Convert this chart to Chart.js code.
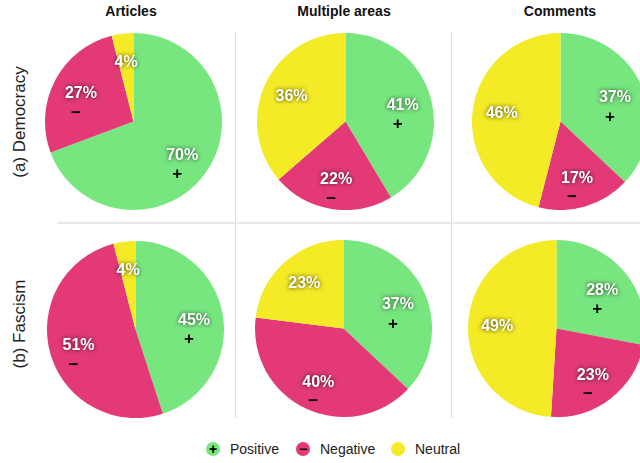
<!DOCTYPE html>
<html>
<head>
<meta charset="utf-8">
<script src="https://cdn.jsdelivr.net/npm/chart.js@4/dist/chart.umd.min.js"></script>
<style>
  html, body { margin: 0; padding: 0; background: #fff; overflow: hidden; }
  body { width: 640px; height: 463px; position: relative; font-family: "Liberation Sans", Arial, sans-serif; }
  .pie { position: absolute; }
  .col-title { position: absolute; top: 3px; width: 200px; margin-left: -100px; text-align: center; font-weight: bold; font-size: 14px; color: #111; }
  .row-title { position: absolute; width: 200px; height: 20px; line-height: 20px; margin-left: -100px; margin-top: -10px; text-align: center; font-size: 17px; color: #222; transform: rotate(-90deg); }
  .vline { position: absolute; width: 1px; background: #dedede; }
  .hline { position: absolute; height: 2px; background: #e8e8e8; }
  #legend { position: absolute; top: 440px; left: 0; width: 640px; height: 18px; }
  .lg-dot { position: absolute; width: 14px; height: 14px; border-radius: 50%; top: 2px; text-align: center; line-height: 14px; font-weight: bold; font-size: 14px; color: #000; }
  .lg-text { position: absolute; top: 0; font-size: 14px; line-height: 18px; color: #222; }
</style>
</head>
<body>
<div class="vline" style="left:235px; top:32px; height:386px;"></div>
<div class="vline" style="left:451px; top:32px; height:386px;"></div>
<div class="hline" style="left:57px; top:222px; width:583px;"></div>
<div id="legend"></div>

<script>
// --- DADOS ---
const categorias = ['Positive', 'Negative', 'Neutral'];
const sinais = ['+', '\u2212', ''];
const fontes = ['Articles', 'Multiple areas', 'Comments'];
const temas = ['(a) Democracy', '(b) Fascism'];

const democracyArticles = [70, 27, 4];
const democracyMultiple = [41, 22, 36];
const democracyComments = [37, 17, 46];
const fascismArticles = [45, 51, 4];
const fascismMultiple = [37, 40, 23];
const fascismComments = [28, 23, 49];

const cores = ['#77e67f', '#e33a77', '#f4ea25'];

// --- LAYOUT ---
const linhas = [
    { tema: temas[0], y: [121.5, 121, 121.5], x: [133.5, 345, 560], dados: [democracyArticles, democracyMultiple, democracyComments], labelY: 122 },
    { tema: temas[1], y: [329, 328.5, 328.5], x: [135, 343, 556], dados: [fascismArticles, fascismMultiple, fascismComments], labelY: 324 }
];
const colunasX = [131, 344, 560];
const raio = 88.5;

// plugin que escreve as porcentagens e os sinais dentro das fatias
const rotulosPizza = {
    id: 'rotulosPizza',
    afterDatasetsDraw(chart) {
        const ctx = chart.ctx;
        const meta = chart.getDatasetMeta(0);
        const valores = chart.data.datasets[0].data;
        meta.data.forEach((arc, i) => {
            const p = arc.getProps(['x', 'y', 'startAngle', 'endAngle', 'outerRadius'], true);
            const meio = (p.startAngle + p.endAngle) / 2;
            const lx = p.x + Math.cos(meio) * p.outerRadius * 0.67;
            const ly = p.y + Math.sin(meio) * p.outerRadius * 0.67;
            ctx.save();
            ctx.textAlign = 'center';
            ctx.textBaseline = 'middle';
            ctx.font = 'bold 16px "Liberation Sans", Arial, sans-serif';
            ctx.shadowColor = 'rgba(0,0,0,0.75)';
            ctx.shadowBlur = 4;
            ctx.fillStyle = '#fff';
            ctx.fillText(valores[i] + '%', lx, ly);
            ctx.restore();
            if (sinais[i] && valores[i] >= 10) {
                ctx.save();
                ctx.textAlign = 'center';
                ctx.textBaseline = 'middle';
                ctx.font = 'bold 17px "Liberation Sans", Arial, sans-serif';
                ctx.fillStyle = '#000';
                ctx.fillText(sinais[i], lx - 5, ly + 19);
                ctx.restore();
            }
        });
    }
};

function criarPizza(cx, cy, dados) {
    const canvas = document.createElement('canvas');
    const lado = raio * 2;
    canvas.width = lado;
    canvas.height = lado;
    canvas.className = 'pie';
    canvas.style.left = (cx - raio) + 'px';
    canvas.style.top = (cy - raio) + 'px';
    document.body.appendChild(canvas);

    new Chart(canvas.getContext('2d'), {
        type: 'pie',
        data: {
            labels: categorias,
            datasets: [{
                data: dados,
                backgroundColor: cores,
                borderWidth: 0
            }]
        },
        options: {
            responsive: false,
            animation: false,
            layout: { padding: 0 },
            plugins: { legend: { display: false }, tooltip: { enabled: false } }
        },
        plugins: [rotulosPizza]
    });
}

linhas.forEach(linha => {
    linha.dados.forEach((dados, c) => criarPizza(linha.x[c], linha.y[c], dados));
    const rt = document.createElement('div');
    rt.className = 'row-title';
    rt.textContent = linha.tema;
    rt.style.left = '20px';
    rt.style.top = linha.labelY + 'px';
    document.body.appendChild(rt);
});

fontes.forEach((f, c) => {
    const t = document.createElement('div');
    t.className = 'col-title';
    t.textContent = f;
    t.style.left = colunasX[c] + 'px';
    document.body.appendChild(t);
});

// legenda
const legenda = document.getElementById('legend');
const legendaX = [206, 296, 391];
categorias.forEach((cat, i) => {
    const dot = document.createElement('div');
    dot.className = 'lg-dot';
    dot.style.left = legendaX[i] + 'px';
    dot.style.background = cores[i];
    dot.textContent = sinais[i];
    legenda.appendChild(dot);
    const txt = document.createElement('div');
    txt.className = 'lg-text';
    txt.style.left = (legendaX[i] + 24) + 'px';
    txt.textContent = cat;
    legenda.appendChild(txt);
});
</script>
</body>
</html>
